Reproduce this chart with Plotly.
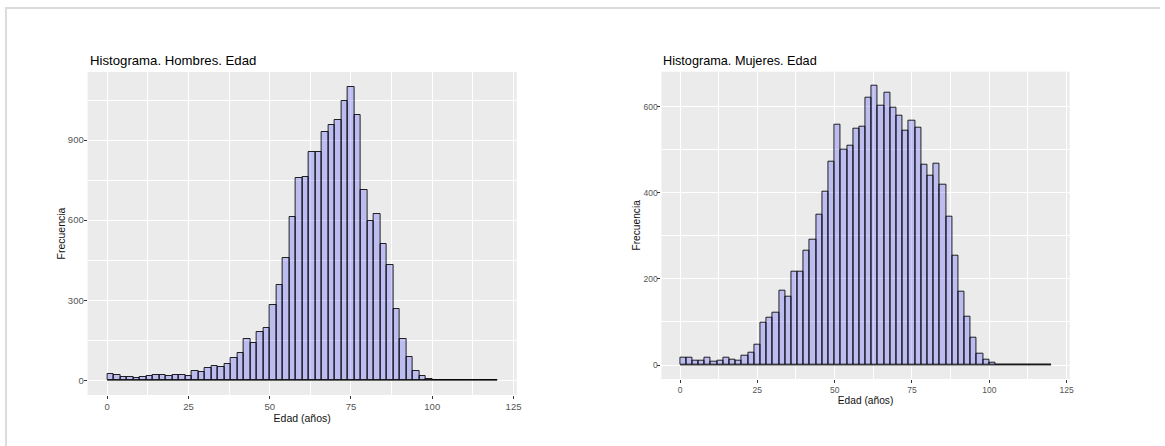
"""Histogramas de edad por sexo (Hombres / Mujeres), estilo ggplot."""

import plotly.graph_objects as go

W, H = 1165, 446

# datos: frecuencias por intervalo de 2 años, desde 0 hasta 120
bin_start = 0
bin_width = 2
hombres_freq = [
    24, 19, 14, 11, 9, 14, 16, 20, 20, 16,
    20, 20, 16, 36, 31, 46, 54, 50, 61, 84,
    104, 154, 138, 182, 197, 282, 358, 460, 611, 758,
    762, 856, 854, 932, 955, 976, 1048, 1100, 995, 713,
    595, 622, 512, 433, 268, 156, 88, 34, 15, 4,
    0, 0, 0, 0, 0, 0, 0, 0, 0, 0,
]
mujeres_freq = [
    18, 18, 10, 10, 18, 8, 10, 16, 12, 10,
    22, 28, 48, 99, 111, 122, 173, 158, 216, 216,
    265, 291, 349, 402, 471, 558, 500, 509, 549, 553,
    621, 649, 603, 633, 597, 579, 545, 567, 550, 465,
    440, 468, 419, 344, 253, 171, 113, 64, 26, 12,
    5, 0, 0, 0, 0, 0, 0, 0, 0, 0,
]
x_ticks = [0, 25, 50, 75, 100, 125]
hombres_yticks = [0, 300, 600, 900]
mujeres_yticks = [0, 200, 400, 600]

titulos = ["Histograma. Hombres. Edad", "Histograma. Mujeres. Edad"]
x_title = "Edad (años)"
y_title = "Frecuencia"

FONT = "Liberation Sans, Arial, sans-serif"
FILL = "rgba(0,0,255,0.2)"


def px_x(v):
    return v / W


def px_y(v):
    return 1 - v / H


def bin_centres(counts):
    return [bin_start + bin_width * (i + 0.5) for i in range(len(counts))]


fig = go.Figure()

# panel geometry in pixels and font sizes (the right image is slightly smaller)
panels = [
    dict(l=88, r=519, t=72, b=395, counts=hombres_freq, yticks=hombres_yticks,
         yrange=[-55, 1155], yminor=150, tick=9.5, axis=10.5, title=13.2),
    dict(l=664.3, r=1074.3, t=71.7, b=379, counts=mujeres_freq, yticks=mujeres_yticks,
         yrange=[-32.5, 681], yminor=100, tick=8.5, axis=10.2, title=12.7),
]

annotations = []
for i, p in enumerate(panels, start=1):
    xa = "x" if i == 1 else f"x{i}"
    ya = "y" if i == 1 else f"y{i}"
    counts = p["counts"]
    fig.add_trace(
        go.Bar(
            x=bin_centres(counts),
            y=counts,
            width=bin_width,
            marker=dict(color=FILL, line=dict(color="rgba(0,0,0,0.85)", width=1)),
            xaxis=xa,
            yaxis=ya,
            showlegend=False,
            hoverinfo="x+y",
        )
    )
    edges = [bin_start, bin_start + bin_width * len(counts)]
    fig.add_trace(
        go.Scatter(
            x=edges,
            y=[0, 0],
            mode="lines",
            line=dict(color="rgba(0,0,0,0.75)", width=1),
            xaxis=xa,
            yaxis=ya,
            showlegend=False,
            hoverinfo="skip",
        )
    )

    common = dict(
        showline=False,
        zeroline=False,
        showgrid=True,
        gridcolor="white",
        gridwidth=1.1,
        ticks="outside",
        ticklen=3,
        tickwidth=1,
        tickcolor="#333333",
        tickfont=dict(family=FONT, size=p["tick"], color="#555555"),
        title_font=dict(family=FONT, size=p["axis"], color="#111111"),
        fixedrange=True,
    )
    fig.layout[f"xaxis{'' if i == 1 else i}"] = dict(
        common,
        domain=[px_x(p["l"]), px_x(p["r"])],
        anchor=ya,
        range=[-6, 126],
        tickvals=x_ticks,
        minor=dict(dtick=12.5, tick0=0, showgrid=True, gridcolor="white", gridwidth=0.5),
        title=dict(text=x_title, standoff=2),
    )
    fig.layout[f"yaxis{'' if i == 1 else i}"] = dict(
        common,
        domain=[px_y(p["b"]), px_y(p["t"])],
        anchor=xa,
        range=p["yrange"],
        tickvals=p["yticks"],
        ticklabelstandoff=-2,
        minor=dict(dtick=p["yminor"], tick0=0, showgrid=True, gridcolor="white", gridwidth=0.5),
        title=dict(text=y_title, standoff=0),
    )
    annotations.append(
        dict(
            text=titulos[i - 1],
            x=px_x(p["l"]),
            y=px_y(60.7),
            xref="paper",
            yref="paper",
            xanchor="left",
            yanchor="middle",
            showarrow=False,
            font=dict(family=FONT, size=p["title"], color="#000000"),
        )
    )

# thin frame at top and left of the page
shapes = [
    dict(type="line", xref="paper", yref="paper", x0=px_x(5), x1=1, y0=px_y(8), y1=px_y(8),
         line=dict(color="#DCDCDC", width=2)),
    dict(type="line", xref="paper", yref="paper", x0=px_x(6), x1=px_x(6), y0=px_y(8), y1=0,
         line=dict(color="#DCDCDC", width=2)),
]

fig.update_layout(
    width=W,
    height=H,
    margin=dict(l=0, r=0, t=0, b=0),
    paper_bgcolor="white",
    plot_bgcolor="#EBEBEB",
    bargap=0,
    annotations=annotations,
    shapes=shapes,
    font=dict(family=FONT),
)

# the page body has a default 8px margin; drop it so the figure fills the window
fig.write_html(
    "out.html",
    config={"displayModeBar": False},
    post_script="document.body.style.margin = '0';",
)
